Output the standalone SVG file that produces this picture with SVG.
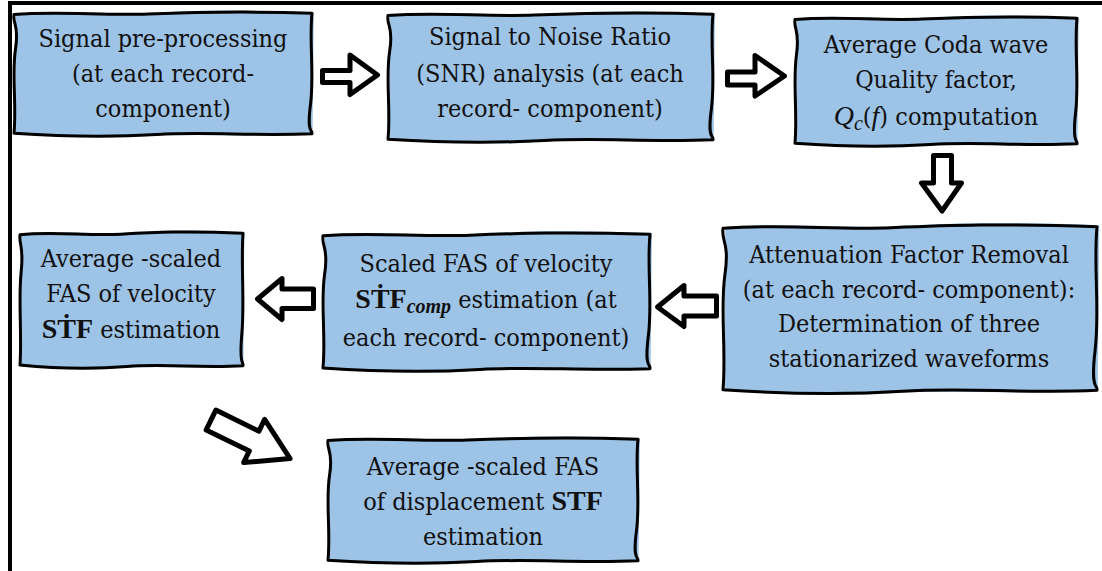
<svg xmlns="http://www.w3.org/2000/svg" width="1102" height="571" viewBox="0 0 1102 571">
  <style>
    .frame { fill: none; stroke: #000; stroke-width: 4; }
    .fill { fill: #9dc3e6; stroke: none; }
    .edge { fill: none; stroke: #000; stroke-width: 3; stroke-linejoin: round; }
    text { font-family: 'DejaVu Serif Condensed', 'DejaVu Serif', serif; font-stretch: condensed; font-size: 25px; fill: #111; text-anchor: middle; }
    .b { font-family: 'Liberation Serif', 'DejaVu Serif', serif; font-stretch: normal; font-size: 28px; font-weight: bold; }
    .i { font-family: 'Liberation Serif', 'DejaVu Serif', serif; font-stretch: normal; font-size: 28px; font-style: italic; }
    .sub { font-size: 20px; }
    .arrow { fill: #fff; stroke: #000; stroke-width: 5; stroke-linejoin: round; }
  </style>
  <defs>
    <!-- unit-square sketchy outlines, scaled per node; stroke kept constant -->
    <path id="waveFill" d="M0.6,1.2 C20,-1.8 35,2.6 50,0.4 S80,-1.6 100.6,0.2 L100.2,99.4 C80,102 60,98.2 45,100.8 S15,100.2 0.4,99.6 Z"/>
    <path id="waveEdge" vector-effect="non-scaling-stroke" d="M0,2 C15,-0.8 30,3 45,1.6 S75,-1 100,1 C99,25 100.8,50 99.5,75 S100.2,95 100,99 C80,101 65,97.2 48,99.6 S15,101 0,98.6 C0.9,75 -0.8,50 0.5,30 S-0.5,10 0,2 Z"/>
  </defs>

  <!-- outer frame -->
  <path class="frame" d="M10,571 L10,3 L1102,3"/>

  <!-- connectors -->
  <g id="connectors">
    <polygon class="arrow" points="322.5,70.5 350,70.5 350,55 377.5,75 350,94.5 350,82.5 322.5,82.5"/>
    <polygon class="arrow" points="727.5,72 755,72 755,55.5 784.5,76 755,96 755,85 727.5,85"/>
    <polygon class="arrow" points="933.5,155.5 951.5,155.5 951.5,183 961.5,183 942,211 921.5,183 933.5,183"/>
    <polygon class="arrow" points="716.5,296 684,296 684,285.5 657.5,307 684,326.5 684,316 716.5,316"/>
    <polygon class="arrow" points="313.5,289 282,289 282,278.5 257.5,299 282,319.5 282,308.5 313.5,308.5"/>
    <polygon class="arrow" transform="translate(211,420) rotate(26)" points="0,-11 48,-11 48,-24 88,0 48,24 48,11 0,11"/>
  </g>

  <!-- Signal pre-processing -->
  <g id="n-preprocess">
    <use href="#waveFill" class="fill" transform="translate(14,12) scale(2.98,1.23)"/>
    <use href="#waveEdge" class="edge" transform="translate(14,12) scale(2.98,1.23)"/>
    <text x="163" y="47">Signal pre-processing</text>
    <text x="163" y="82">(at each record-</text>
    <text x="163" y="117">component)</text>
  </g>

  <!-- SNR analysis -->
  <g id="n-snr">
    <use href="#waveFill" class="fill" transform="translate(388,13) scale(3.25,1.28)"/>
    <use href="#waveEdge" class="edge" transform="translate(388,13) scale(3.25,1.28)"/>
    <text x="550" y="45">Signal to Noise Ratio</text>
    <text x="550" y="82">(SNR) analysis (at each</text>
    <text x="550" y="117">record- component)</text>
  </g>

  <!-- Coda Q computation -->
  <g id="n-coda">
    <use href="#waveFill" class="fill" transform="translate(795,17) scale(2.82,1.28)"/>
    <use href="#waveEdge" class="edge" transform="translate(795,17) scale(2.82,1.28)"/>
    <text x="936" y="53">Average Coda wave</text>
    <text x="936" y="88">Quality factor,</text>
    <text x="936" y="125"><tspan class="i">Q</tspan><tspan class="i sub" dy="5">c</tspan><tspan dy="-5">(</tspan><tspan class="i">f</tspan>) computation</text>
  </g>

  <!-- Attenuation factor removal -->
  <g id="n-attenuation">
    <use href="#waveFill" class="fill" transform="translate(723,225) scale(3.74,1.67)"/>
    <use href="#waveEdge" class="edge" transform="translate(723,225) scale(3.74,1.67)"/>
    <text x="909" y="263">Attenuation Factor Removal</text>
    <text x="909" y="298">(at each record- component):</text>
    <text x="909" y="332">Determination of three</text>
    <text x="909" y="367">stationarized waveforms</text>
  </g>

  <!-- Scaled FAS of velocity per component -->
  <g id="n-scaled-velocity">
    <use href="#waveFill" class="fill" transform="translate(323,233) scale(3.27,1.37)"/>
    <use href="#waveEdge" class="edge" transform="translate(323,233) scale(3.27,1.37)"/>
    <text x="486" y="272">Scaled FAS of velocity</text>
    <text x="486" y="308"><tspan class="b">S&#x1E6A;F</tspan><tspan class="b i sub" dy="5">comp</tspan><tspan dy="-5"> estimation (at</tspan></text>
    <text x="486" y="346">each record- component)</text>
  </g>

  <!-- Average scaled FAS of velocity -->
  <g id="n-avg-velocity">
    <use href="#waveFill" class="fill" transform="translate(20,232) scale(2.23,1.35)"/>
    <use href="#waveEdge" class="edge" transform="translate(20,232) scale(2.23,1.35)"/>
    <text x="131" y="267">Average -scaled</text>
    <text x="131" y="302">FAS of velocity</text>
    <text x="131" y="338"><tspan class="b">S&#x1E6A;F</tspan> estimation</text>
  </g>

  <!-- Average scaled FAS of displacement -->
  <g id="n-avg-displacement">
    <use href="#waveFill" class="fill" transform="translate(328,438) scale(3.10,1.24)"/>
    <use href="#waveEdge" class="edge" transform="translate(328,438) scale(3.10,1.24)"/>
    <text x="483" y="475">Average -scaled FAS</text>
    <text x="483" y="510">of displacement <tspan class="b">STF</tspan></text>
    <text x="483" y="545">estimation</text>
  </g>
</svg>
